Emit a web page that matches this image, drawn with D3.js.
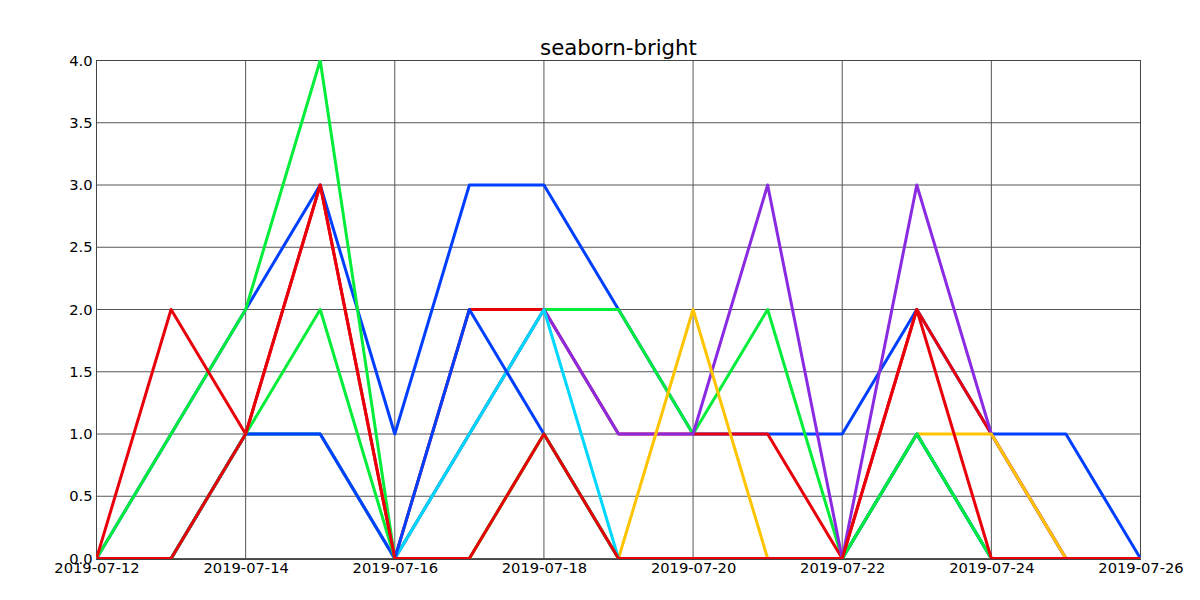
<!DOCTYPE html>
<html>
<head>
<meta charset="utf-8">
<script src="https://cdn.jsdelivr.net/npm/d3@7"></script>
<style>
    body { margin: 0; background: #fff; }
    text { font-family: 'DejaVu Sans', sans-serif; fill: #000; }
</style>
</head>
<body>
<svg id="chart" width="1200" height="600"></svg>
<script>
// one value per day, 2019-07-12 .. 2019-07-26
const dates = ['2019-07-12', '2019-07-13', '2019-07-14', '2019-07-15', '2019-07-16',
    '2019-07-17', '2019-07-18', '2019-07-19', '2019-07-20', '2019-07-21',
    '2019-07-22', '2019-07-23', '2019-07-24', '2019-07-25', '2019-07-26'];

const blueA   = [0, 1, 2, 3, 1, 3, 3, 2, 1, 1, 1, 2, 1, 1, 0];
const greenA  = [0, 1, 2, 4, 0, 1, 2, 2, 1, 2, 0, 1, 0, 0, 0];
const redA    = [0, 2, 1, 3, 0, 2, 2, 1, 1, 1, 0, 2, 1, 0, 0];
const purple  = [0, 0, 1, 1, 0, 1, 2, 1, 1, 3, 0, 3, 1, 0, 0];
const yellow  = [0, 0, 1, 1, 0, 0, 1, 0, 2, 0, 0, 1, 1, 0, 0];
const cyan    = [0, 0, 1, 1, 0, 1, 2, 0, 0, 0, 0, 1, 0, 0, 0];
const blueB   = [0, 0, 1, 1, 0, 2, 1, 0, 0, 0, 0, 1, 0, 0, 0];
const greenB  = [0, 0, 1, 2, 0, 0, 1, 0, 0, 0, 0, 1, 0, 0, 0];
const redB    = [0, 0, 1, 3, 0, 0, 1, 0, 0, 0, 0, 2, 0, 0, 0];

// seaborn-bright cycle, repeated
const palette = ['#003FFF', '#03ED3A', '#E8000B', '#8A2BE2', '#FFC400', '#00D7FF'];
const seriesList = [blueA, greenA, redA, purple, yellow, cyan, blueB, greenB, redB];

const xTickDates = ['2019-07-12', '2019-07-14', '2019-07-16', '2019-07-18',
    '2019-07-20', '2019-07-22', '2019-07-24', '2019-07-26'];
const yTicks = [0, 0.5, 1, 1.5, 2, 2.5, 3, 3.5, 4];

const title = 'seaborn-bright';

const width = 1200, height = 600;

const parse = d3.utcParse('%Y-%m-%d');
const fmt = d3.utcFormat('%Y-%m-%d');

const x = d3.scaleUtc()
    .domain([parse(dates[0]), parse(dates[dates.length - 1])])
    .range([96.5, 1140.5]);

const y = d3.scaleLinear()
    .domain([0, 4])
    .range([558.5, 60.5]);

const svg = d3.select('#chart');

function drawGrid() {
    let g = svg.append('g').classed('grid', true);

    g.selectAll('.vline')
        .data(xTickDates.map(parse))
        .join('line')
        .classed('vline', true)
        .attr('x1', d => x(d)).attr('x2', d => x(d))
        .attr('y1', y(0)).attr('y2', y(4))
        .attr('stroke', '#555')
        .attr('stroke-width', 1);

    g.selectAll('.hline')
        .data(yTicks)
        .join('line')
        .classed('hline', true)
        .attr('x1', x.range()[0]).attr('x2', x.range()[1])
        .attr('y1', d => y(d)).attr('y2', d => y(d))
        .attr('stroke', '#555')
        .attr('stroke-width', 1);

    // frame sits under the lines
    g.append('rect')
        .attr('x', x.range()[0]).attr('y', y(4))
        .attr('width', x.range()[1] - x.range()[0])
        .attr('height', y(0) - y(4) + 1)
        .attr('fill', 'none')
        .attr('stroke', '#444')
        .attr('stroke-width', 1);
}

function drawLines() {
    // pixel aligned clip so flat lines on the axis keep a clean 2px band
    svg.append('clipPath')
        .attr('id', 'clip')
        .append('rect')
        .attr('x', x.range()[0] - 0.5).attr('y', y(4) - 0.5)
        .attr('width', x.range()[1] - x.range()[0] + 1)
        .attr('height', y(0) - y(4) + 1);

    let line = d3.line()
        .x((d, i) => x(parse(dates[i])))
        .y(d => y(d));

    svg.append('g')
        .attr('clip-path', 'url(#clip)')
        .selectAll('path')
        .data(seriesList)
        .join('path')
        .attr('d', line)
        .attr('fill', 'none')
        .attr('stroke', (d, i) => palette[i % palette.length])
        .attr('stroke-width', 3)
        .attr('stroke-linejoin', 'round');
}

function drawAxes() {
    let xAxis = d3.axisBottom(x)
        .tickValues(xTickDates.map(parse))
        .tickFormat(fmt)
        .tickSize(0)
        .tickPadding(4);

    let yAxis = d3.axisLeft(y)
        .tickValues(yTicks)
        .tickFormat(d3.format('.1f'))
        .tickSize(0)
        .tickPadding(4);

    svg.append('g')
        .attr('transform', 'translate(0,' + y(0) + ')')
        .call(xAxis)
        .call(g => g.select('.domain').remove())
        .selectAll('text')
        .style('font-size', '14.7px')
        .attr('dy', '0.72em');

    svg.append('g')
        .attr('transform', 'translate(' + x.range()[0] + ',0)')
        .call(yAxis)
        .call(g => g.select('.domain').remove())
        .selectAll('text')
        .style('font-size', '14.7px');

    svg.append('text')
        .attr('x', (x.range()[0] + x.range()[1]) / 2)
        .attr('y', 55)
        .attr('text-anchor', 'middle')
        .style('font-size', '21.3px')
        .text(title);
}

drawGrid();
drawLines();
drawAxes();
</script>
</body>
</html>
